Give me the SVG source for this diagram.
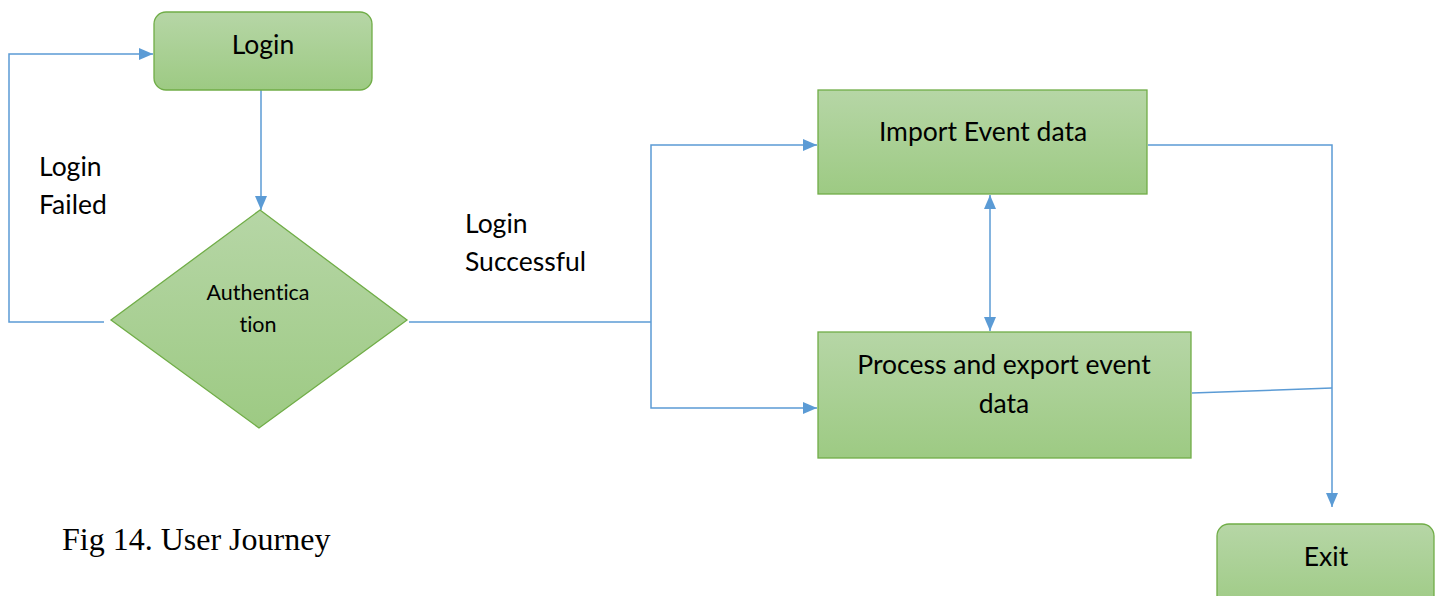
<svg xmlns="http://www.w3.org/2000/svg" width="1441" height="596" viewBox="0 0 1441 596">
<style>
.node{stroke:#70ad47;stroke-width:1.3;fill:url(#g)}
.lbl{font-family:Lato,"Liberation Sans",sans-serif;font-size:26.5px;fill:#000;font-variant-ligatures:none;font-feature-settings:"liga" 0,"clig" 0,"dlig" 0}
.c{fill:none;stroke:#5b9bd5;stroke-width:1.5}
</style>
<defs>
<linearGradient id="g" x1="0" y1="0" x2="0" y2="1">
<stop offset="0" stop-color="#b6d6a6"/>
<stop offset="1" stop-color="#9dca83"/>
</linearGradient>
<marker id="a" viewBox="0 0 14 12" refX="14" refY="6" markerWidth="14" markerHeight="12" markerUnits="userSpaceOnUse" orient="auto-start-reverse">
<path d="M0,0 L14,6 L0,12 Z" fill="#5b9bd5"/>
</marker>
</defs>
<g id="connectors">
<path class="c" d="M104,322 H9 V54 H153" marker-end="url(#a)"/>
<path class="c" d="M261,90 V210" marker-end="url(#a)"/>
<path class="c" d="M409,322 H651"/>
<path class="c" d="M651,322 V145 H817" marker-end="url(#a)"/>
<path class="c" d="M651,322 V408 H817" marker-end="url(#a)"/>
<path class="c" d="M990,195 V331" marker-start="url(#a)" marker-end="url(#a)"/>
<path class="c" d="M1148,145 H1332 V507" marker-end="url(#a)"/>
<path class="c" d="M1192,393 L1332,388"/>
</g>
<g id="login">
<rect class="node" x="154" y="12" width="218" height="78" rx="12"/>
<text class="lbl" x="263" y="54" text-anchor="middle">Login</text>
</g>
<g id="auth">
<polygon class="node" points="260,210 407,320 259,428 111,320"/>
<text class="lbl" x="258" y="300" text-anchor="middle" style="font-size:21.5px">Authentica</text>
<text class="lbl" x="258" y="332" text-anchor="middle" style="font-size:21.5px">tion</text>
</g>
<g id="import">
<rect class="node" x="818" y="90" width="329" height="104"/>
<text class="lbl" x="983" y="141" text-anchor="middle">Import Event data</text>
</g>
<g id="process">
<rect class="node" x="818" y="332" width="373" height="126"/>
<text class="lbl" x="1004" y="374" text-anchor="middle">Process and export event</text>
<text class="lbl" x="1004" y="413" text-anchor="middle">data</text>
</g>
<g id="exit">
<rect class="node" x="1217" y="524" width="217" height="90" rx="12"/>
<text class="lbl" x="1326" y="566" text-anchor="middle">Exit</text>
</g>
<g id="labels">
<text class="lbl" x="39" y="176">Login</text>
<text class="lbl" x="39" y="214">Failed</text>
<text class="lbl" x="465" y="233">Login</text>
<text class="lbl" x="465" y="271">Successful</text>
<text x="62" y="550" style="font-family:'Liberation Serif',serif;font-size:32px;fill:#000">Fig 14. User Journey</text>
</g>
</svg>
